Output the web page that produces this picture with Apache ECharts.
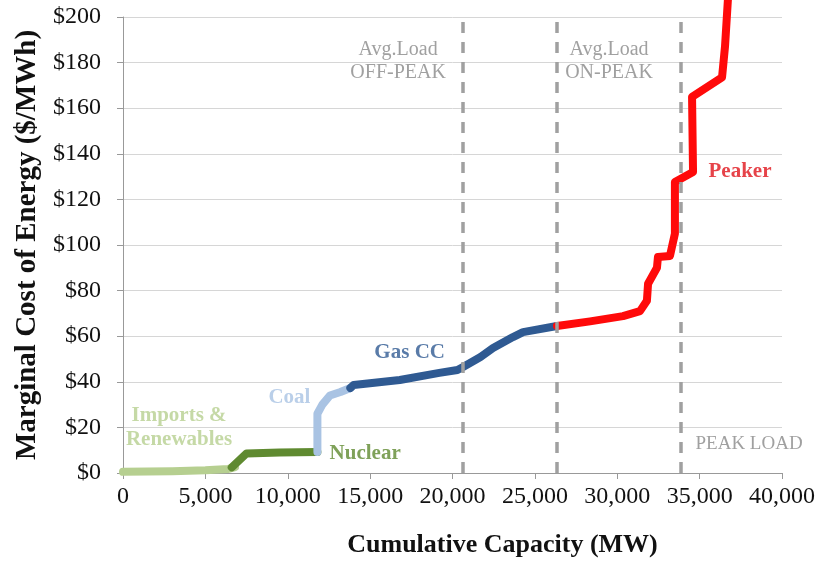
<!DOCTYPE html>
<html><head><meta charset="utf-8">
<script src="https://cdn.jsdelivr.net/npm/echarts@6/dist/echarts.min.js"></script>
<style>html,body{margin:0;padding:0;background:#fff}#c{width:819px;height:562px}</style>
</head><body><div id="c"></div>
<script>
// [capacity MW, $/MWh]
var importsData = [[0,0.5],[3000,0.8],[5000,1.2],[6400,1.8],[6800,2.6]];
var nuclearData = [[6600,2.5],[7500,8.6],[9500,9.0],[11800,9.2]];
var coalData = [[11800,9.2],[11800,26],[12100,30],[12560,34],[13200,35.5],[13800,37.3]];
var gasData = [[13800,37.3],[14000,38.6],[16800,40.8],[19200,43.9],[20300,45.2],[20640,46.5],[21700,50.9],[22460,54.8],[23670,59.6],[24280,61.8],[26340,64.5]];
var peakerData = [[26340,64.5],[28350,66.5],[30350,68.8],[31380,71],[31800,75.5],[31870,83],[32410,90],[32470,94.7],[33200,95.2],[33500,105],[33500,127.6],[34600,132],[34540,165],[36360,173.5],[36540,187],[36720,208]];
var loadLines = [20640, 26340, 33870];
var xTicks = [0,5000,10000,15000,20000,25000,30000,35000,40000];
var yTicks = [0,20,40,60,80,100,120,140,160,180,200];

var serif = 'Liberation Serif';
function lineSeries(name, data, color){
  return {name:name,type:'line',data:data,symbol:'none',clip:false,
    lineStyle:{color:color,width:8,cap:'round',join:'round'},z:3};
}
function ann(x,y,text,color,size,bold){
  return {value:[x,y],label:{show:true,position:'inside',formatter:text,color:color,
    fontSize:size,fontWeight:bold?'bold':'normal',fontFamily:serif,lineHeight:size*1.15,align:'center'}};
}
var chart = echarts.init(document.getElementById('c'));
chart.setOption({
  animation:false,
  grid:{left:123,right:37,top:17,bottom:89,containLabel:false,outerBoundsMode:'none'},
  xAxis:{type:'value',min:0,max:40000,interval:5000,
    name:'Cumulative Capacity (MW)',nameLocation:'middle',nameGap:59,
    nameTextStyle:{fontFamily:serif,fontWeight:'bold',fontSize:26,color:'#111',padding:[0,0,0,100]},
    axisLine:{show:true,lineStyle:{color:'#999',width:1}},
    axisTick:{show:true,length:6,lineStyle:{color:'#999'}},
    splitLine:{show:false},
    axisLabel:{fontFamily:serif,fontSize:24,color:'#111',margin:12,
      formatter:function(v){return v.toLocaleString('en-US');}}},
  yAxis:{type:'value',min:0,max:200,interval:20,
    name:'Marginal Cost of Energy ($/MWh)',nameLocation:'middle',nameGap:80,
    nameTextStyle:{fontFamily:serif,fontWeight:'bold',fontSize:29,color:'#111'},
    axisLine:{show:true,lineStyle:{color:'#999',width:1}},
    axisTick:{show:true,length:6,lineStyle:{color:'#999'}},
    splitLine:{show:true,lineStyle:{color:'#d6d6d6',width:1}},
    axisLabel:{fontFamily:serif,fontSize:24,color:'#111',margin:22,
      formatter:function(v){return '$'+v;}}},
  series:[
    lineSeries('Imports & Renewables',importsData,'#b6cf90'),
    lineSeries('Nuclear',nuclearData,'#5f8a30'),
    lineSeries('Coal',coalData,'#a9c3e3'),
    lineSeries('Gas CC',gasData,'#2f5a92'),
    lineSeries('Peaker',peakerData,'#ff0a0a'),
    {type:'line',data:[],silent:true,
      markLine:{symbol:'none',silent:true,label:{show:false},
        lineStyle:{color:'#a0a0a0',width:3.5,type:[11,9]},
        data:loadLines.map(function(v){return {xAxis:v};})},z:2},
    {type:'scatter',symbolSize:0,silent:true,z:5,data:[
      ann(3400,20,'Imports &\nRenewables','#b6cf90',21,true),
      ann(10100,33,'Coal','#a9c3e3',21,true),
      ann(14700,8.3,'Nuclear','#5f8a30',21,true),
      ann(17400,53,'Gas CC','#2f5a92',21,true),
      ann(37450,132,'Peaker','#e0141c',21,true),
      ann(16700,180.5,'Avg.Load\nOFF-PEAK','#888',20,false),
      ann(29500,180.5,'Avg.Load\nON-PEAK','#888',20,false),
      ann(38000,12.7,'PEAK LOAD','#888',19,false)
    ]}
  ]
});
</script></body></html>
